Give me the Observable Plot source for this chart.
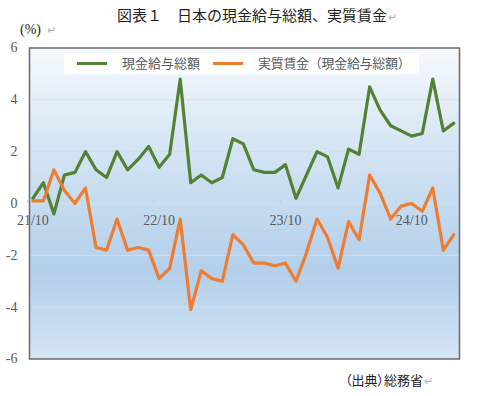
<!DOCTYPE html>
<html><head><meta charset="utf-8">
<script src="https://cdn.jsdelivr.net/npm/d3@7"></script>
<script src="https://cdn.jsdelivr.net/npm/@observablehq/plot@0.6"></script>
<style>
body{margin:0;background:#fff;}
#wrap{position:relative;width:477px;height:396px;overflow:hidden;font-family:"Noto Sans CJK JP",sans-serif;}
.t{position:absolute;white-space:nowrap;line-height:1;}
.ret{color:#b0b0b0;font-size:11px;margin-left:1px;}
#legend{position:absolute;left:64px;top:53px;width:355px;height:21px;background:#fff;}
#legend .sw{position:absolute;top:9px;width:30px;height:3px;}
#legend .lb{position:absolute;top:3px;font-size:13px;color:#595959;line-height:1;white-space:nowrap;}
</style></head><body>
<div id="wrap">
  <div id="chart" style="position:absolute;left:0;top:0"></div>
  <div class="t" style="left:117px;top:7px;font-size:15px;color:#222;">図表１　日本の現金給与総額、実質賃金<span class="ret">↵</span></div>
  <div class="t" style="left:20px;top:23px;font-size:14px;font-family:'Liberation Serif',serif;color:#222;">(%)<span class="ret" style="margin-left:6px">↵</span></div>
  <div id="legend">
    <div class="sw" style="left:13px;background:#548235"></div>
    <div class="lb" style="left:58px">現金給与総額</div>
    <div class="sw" style="left:149px;background:#ED7D31"></div>
    <div class="lb" style="left:194px;letter-spacing:-0.3px">実質賃金（現金給与総額）</div>
  </div>
  <div class="t" style="left:345px;top:373px;font-size:13px;color:#222;font-feature-settings:'palt';">（出典）総務省<span class="ret">↵</span></div>
</div>
<script>
const months = ["21/10","21/11","21/12","22/01","22/02","22/03","22/04","22/05","22/06","22/07","22/08","22/09",
  "22/10","22/11","22/12","23/01","23/02","23/03","23/04","23/05","23/06","23/07","23/08","23/09",
  "23/10","23/11","23/12","24/01","24/02","24/03","24/04","24/05","24/06","24/07","24/08","24/09",
  "24/10","24/11","24/12","25/01","25/02"];
const cashEarnings = [0.2,0.8,-0.4,1.1,1.2,2.0,1.3,1.0,2.0,1.3,1.7,2.2,
  1.4,1.9,4.8,0.8,1.1,0.8,1.0,2.5,2.3,1.3,1.2,1.2,
  1.5,0.2,1.1,2.0,1.8,0.6,2.1,1.9,4.5,3.6,3.0,2.8,
  2.6,2.7,4.8,2.8,3.1];
const realWages = [0.1,0.1,1.3,0.5,0.0,0.6,-1.7,-1.8,-0.6,-1.8,-1.7,-1.8,
  -2.9,-2.5,-0.6,-4.1,-2.6,-2.9,-3.0,-1.2,-1.6,-2.3,-2.3,-2.4,
  -2.3,-3.0,-1.9,-0.6,-1.3,-2.5,-0.7,-1.4,1.1,0.4,-0.6,-0.1,
  0.0,-0.3,0.6,-1.8,-1.2];
const xTickLabels = ["21/10","22/10","23/10","24/10"];
const yTicks = [-6,-4,-2,0,2,4,6];

const data = months.map((m,i)=>({i, m, cash: cashEarnings[i], real: realWages[i]}));
const xTicks = xTickLabels.map(l=>({i: months.indexOf(l), label: l}));

const chart = Plot.plot({
  width: 477, height: 396,
  marginLeft: 29, marginRight: 18, marginTop: 47.5, marginBottom: 37.5,
  x: {domain: [-0.32, 40.54], axis: null},
  y: {domain: [-6, 6], axis: null},
  style: {background: "transparent", color: "#595959", fontFamily: "'Liberation Serif', serif"},
  marks: [
    Plot.frame({fill: "url(#bgGrad)", stroke: null}),
    Plot.gridY(yTicks.filter(v => v > -6 && v < 6), {stroke: "#d6dde6", strokeOpacity: 1, strokeWidth: 1}),
    Plot.axisY(yTicks, {tickSize: 0, tickPadding: 12, fontSize: 14, tickFormat: d => String(d)}),
    Plot.ruleX(xTicks, {x: d => d.i - 0.5, y1: 0, y2: 0.12, stroke: "#c9c9c9"}),
    Plot.text(xTicks, {x: "i", y: 0, text: "label", dy: 17, fontSize: 14, fill: "#595959"}),
    Plot.line(data, {x: "i", y: "cash", stroke: "#548235", strokeWidth: 3.2}),
    Plot.line(data, {x: "i", y: "real", stroke: "#ED7D31", strokeWidth: 3.2}),
    Plot.frame({stroke: "#6a6a6a", strokeWidth: 1.5})
  ]
});
const defs = d3.select(chart).insert("defs", ":first-child");
const g = defs.append("linearGradient").attr("id", "bgGrad").attr("x1", 0).attr("y1", 0).attr("x2", 0).attr("y2", 1);
[[0, "#f5f9fd"], [0.35, "#d2e3f3"], [0.72, "#b3cfea"], [1, "#d4e5f5"]].forEach(([o, c]) =>
  g.append("stop").attr("offset", o).attr("stop-color", c));
document.getElementById("chart").append(chart);
</script>
</body></html>
